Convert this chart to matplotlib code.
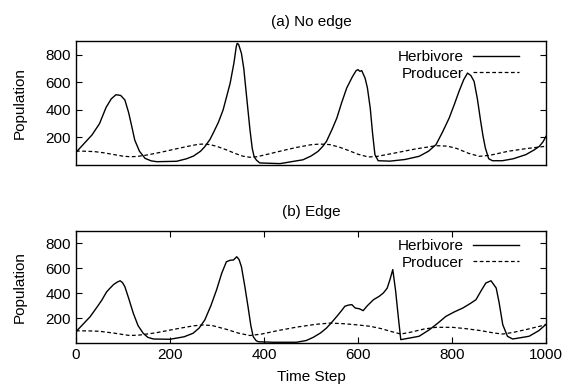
import matplotlib
matplotlib.use('Agg')
import matplotlib.pyplot as plt

plt.rcParams['font.family'] = ['Liberation Sans', 'DejaVu Sans']
plt.rcParams['font.size'] = 11

# (a) no edge
t_herb_a = [0, 34, 50, 64, 75, 85, 95, 104, 112, 118, 125, 135, 147, 160, 172, 214, 235, 250,
            265, 274, 285, 292, 303, 313, 320, 328, 336, 341, 343, 346, 352, 357, 363, 370,
            375, 379, 384, 391, 434, 483, 500, 515, 525, 533, 545, 555, 565, 576, 588, 596,
            600, 604, 608, 615, 620, 626, 631, 636, 643, 668, 700, 730, 750, 766, 780, 794,
            805, 815, 825, 833, 840, 847, 854, 861, 866, 871, 878, 886, 907, 930, 957, 975,
            986, 994, 1000]
herb_a = [92, 218, 300, 418, 480, 510, 505, 472, 380, 290, 181, 100, 48, 30, 24, 27, 45, 65,
          100, 133, 185, 232, 310, 400, 490, 594, 740, 860, 883, 875, 810, 700, 496, 260,
          120, 60, 35, 15, 10, 38, 65, 99, 135, 172, 260, 341, 450, 559, 640, 685,
          692, 680, 685, 631, 560, 414, 230, 75, 31, 28, 40, 63, 100, 148, 240, 341,
          440, 535, 620, 667, 650, 607, 480, 317, 210, 123, 46, 31, 31, 45, 75, 110,
          136, 170, 208]
t_prod_a = [0, 20, 40, 60, 80, 100, 115, 130, 150, 180, 210, 240, 260, 271, 285, 300, 320,
            340, 355, 370, 385, 410, 440, 470, 500, 519, 540, 560, 580, 600, 622, 640, 680,
            720, 766, 790, 810, 835, 858, 880, 920, 960, 1000]
prod_a = [101, 100, 97, 88, 76, 64, 60, 62, 72, 92, 115, 137, 150, 152, 148, 135, 110,
          82, 64, 56, 60, 80, 105, 128, 147, 152, 148, 130, 105, 78, 58, 62, 88,
          115, 140, 137, 120, 85, 63, 70, 100, 120, 136]

# (b) edge
t_herb_b = [0, 30, 45, 55, 65, 72, 80, 88, 94, 99, 104, 112, 122, 132, 143, 153, 165, 200,
            230, 249, 262, 274, 287, 299, 310, 320, 328, 335, 342, 347, 352, 359, 366, 372,
            377, 383, 388, 420, 469, 490, 505, 520, 533, 545, 555, 565, 572, 580, 587, 594,
            603, 611, 620, 633, 645, 654, 662, 668, 674, 680, 686, 691, 710, 730, 752, 770,
            787, 805, 823, 840, 851, 862, 872, 883, 894, 900, 908, 918, 929, 964, 985, 1000]
herb_b = [91, 211, 290, 345, 410, 439, 470, 490, 500, 485, 452, 360, 238, 140, 78, 45, 32, 30,
          50, 78, 120, 185, 300, 426, 560, 653, 665, 667, 693, 670, 613, 460, 292, 140,
          51, 20, 10, 6, 6, 20, 46, 80, 120, 170, 214, 260, 295, 305, 308, 281,
          275, 260, 300, 348, 375, 402, 440, 509, 590, 420, 200, 27, 40, 54, 107, 160,
          214, 250, 281, 320, 348, 420, 482, 500, 442, 330, 147, 54, 32, 54, 100, 150]
t_prod_b = [0, 30, 50, 80, 100, 115, 135, 170, 220, 250, 271, 290, 320, 345, 370, 395, 430,
            470, 510, 540, 570, 600, 626, 650, 668, 691, 710, 740, 766, 801, 830, 860, 890,
            908, 930, 960, 1000]
prod_b = [98, 97, 94, 80, 68, 60, 64, 82, 118, 138, 145, 140, 110, 80, 60, 72, 100,
          128, 150, 160, 155, 145, 134, 115, 95, 72, 85, 112, 126, 126, 115, 100, 80,
          72, 85, 110, 147]

xticks = [0, 200, 400, 600, 800, 1000]
yticks = [200, 400, 600, 800]

fig = plt.figure(figsize=(5.73, 3.92), dpi=100)
ax1 = fig.add_axes([76 / 573, 1 - 165 / 392, 470 / 573, 124 / 392])
ax2 = fig.add_axes([76 / 573, 1 - 343 / 392, 470 / 573, 112 / 392])

panels = [(ax1, t_herb_a, herb_a, t_prod_a, prod_a, '(a) No edge', 0.975),
          (ax2, t_herb_b, herb_b, t_prod_b, prod_b, '(b) Edge', 0.98)]

for ax, th, h, tp, p, title, ly in panels:
    ax.plot(th, h, color='black', lw=1.0, label='Herbivore')
    ax.plot(tp, p, color='black', lw=0.9, dashes=(3, 2), label='Producer')
    ax.set_xlim(0, 1000)
    ax.set_ylim(0, 900)
    ax.set_yticks(yticks)
    ax.set_xticks(xticks)
    ax.set_ylabel('Population')
    ax.set_title(title, fontsize=11, pad=11)
    ax.tick_params(direction='in', length=4, width=0.8, right=True, top=True, labelsize=11)
    for s in ax.spines.values():
        s.set_linewidth(1.0)
    # gnuplot style key: text right-aligned, sample to the right
    ax.legend(loc='upper right', bbox_to_anchor=(0.955, ly), frameon=False, markerfirst=False,
              handlelength=3.0, handletextpad=0.6, labelspacing=0.15, fontsize=11, borderaxespad=0)
    ax.yaxis.set_label_coords(-0.104, 0.5)

ax1.tick_params(axis='x', bottom=False, top=False, labelbottom=False)
ax2.set_xlabel('Time Step', labelpad=6)

fig.savefig('out.png', dpi=100)
